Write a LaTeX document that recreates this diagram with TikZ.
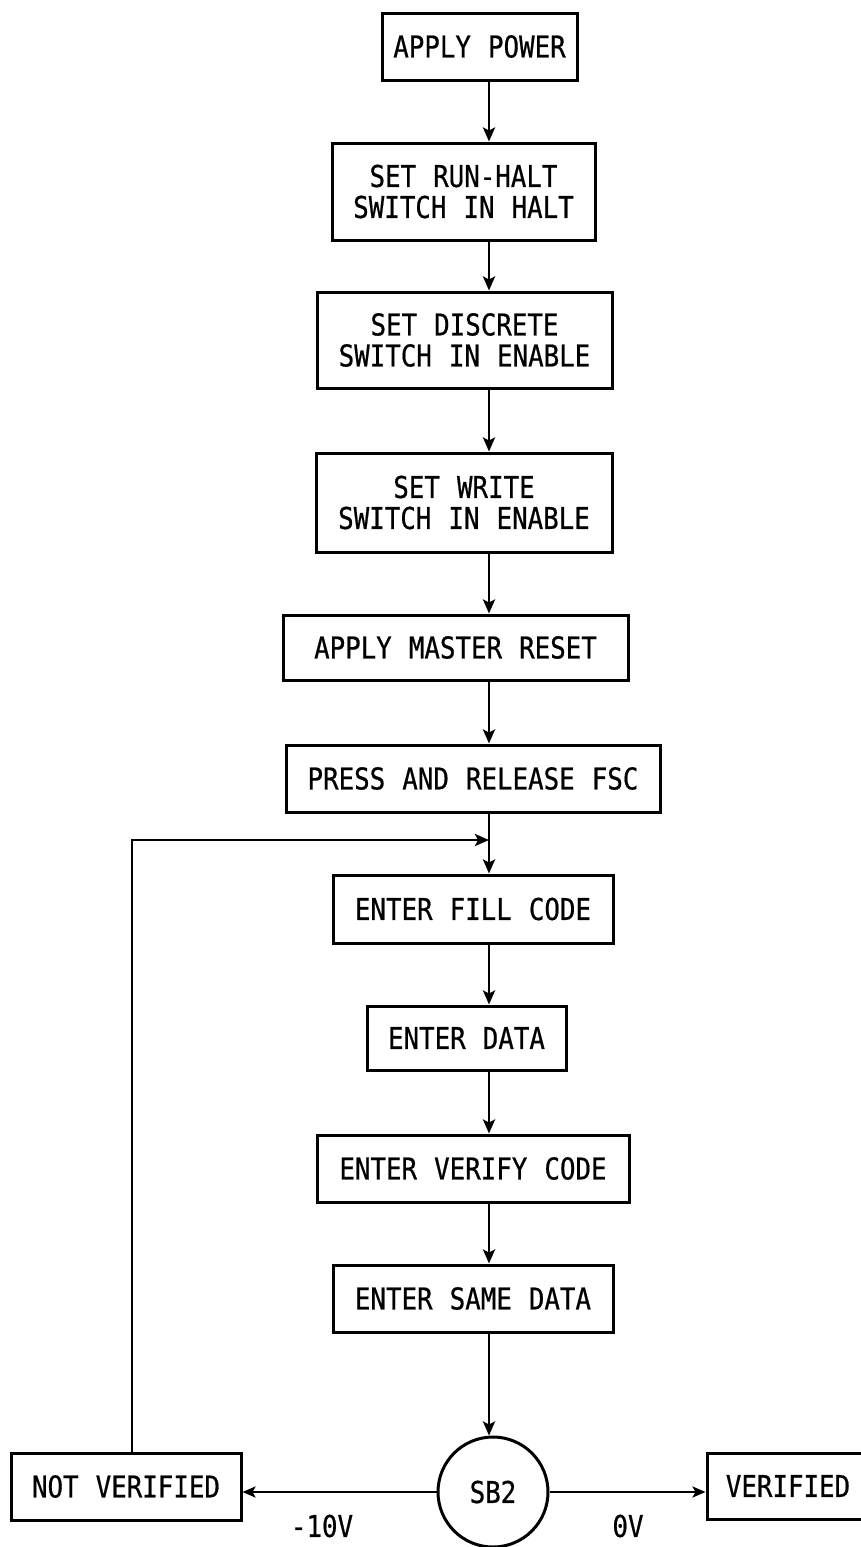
\documentclass[tikz,border=0pt]{standalone}
\usepackage{fontspec}
\usetikzlibrary{arrows.meta}
\newfontfamily\typ[FakeStretch=0.86,FakeBold=0.6,WordSpace=1.1]{DejaVu Sans Mono}
\begin{document}
\begin{tikzpicture}[x=1pt,y=-1pt,
  every node/.style={font=\typ\fontsize{30}{31}\selectfont},
  stepbox/.style={draw,line width=3pt,inner sep=0pt,align=center},
  flow/.style={line width=2.8pt,-{Stealth[length=14pt,width=12pt,inset=3pt]}},
  thin flow/.style={line width=2.4pt,-{Stealth[length=13pt,width=11pt,inset=3pt]}},
  lbl/.style={inner sep=0pt}]
\useasboundingbox (0,0) rectangle (861,1547);
\clip (0,0) rectangle (861,1547);
\coordinate (axis) at (489,0);
\node[stepbox,minimum width=195pt,minimum height=67pt] (power) at (479.5,46.5) {APPLY POWER};
\node[stepbox,minimum width=263pt,minimum height=97pt] (runhalt) at (463.5,191.5) {SET RUN-HALT\\SWITCH IN HALT};
\node[stepbox,minimum width=295pt,minimum height=96pt] (discrete) at (464.5,340) {SET DISCRETE\\SWITCH IN ENABLE};
\node[stepbox,minimum width=296pt,minimum height=99pt] (write) at (464,502.5) {SET WRITE\\SWITCH IN ENABLE};
\node[stepbox,minimum width=345pt,minimum height=65pt] (reset) at (455.5,647.5) {APPLY MASTER RESET};
\node[stepbox,minimum width=374pt,minimum height=67pt] (press) at (473,778.5) {PRESS AND RELEASE FSC};
\node[stepbox,minimum width=280pt,minimum height=68pt] (fill) at (473,909) {ENTER FILL CODE};
\node[stepbox,minimum width=199pt,minimum height=64pt] (data) at (466.5,1038) {ENTER DATA};
\node[stepbox,minimum width=312pt,minimum height=67pt] (verify) at (473,1168.5) {ENTER VERIFY CODE};
\node[stepbox,minimum width=280pt,minimum height=67pt] (same) at (473,1298.5) {ENTER SAME DATA};
\node[stepbox,minimum width=230pt,minimum height=67pt] (notver) at (126,1486.5) {NOT VERIFIED};
\node[stepbox,minimum width=173pt,minimum height=66pt] (verified) at (793.5,1486) {};
\node[lbl] (vertext) at (788,1486) {VERIFIED};
\node[draw,circle,line width=3pt,minimum size=110pt,inner sep=0pt] (sb2) at (493,1492) {SB2};
\node[lbl] (m10) at (322,1526) {-10V};
\node[lbl] (zv) at (628,1526) {0V};
\coordinate (loopcorner) at (132,840);
\coordinate (loopend) at (489,840);
\draw[flow] (power.south -| axis) -- (runhalt.north -| axis);
\draw[flow] (runhalt.south -| axis) -- (discrete.north -| axis);
\draw[flow] (discrete.south -| axis) -- (write.north -| axis);
\draw[flow] (write.south -| axis) -- (reset.north -| axis);
\draw[flow] (reset.south -| axis) -- (press.north -| axis);
\draw[flow] (press.south -| axis) -- (fill.north -| axis);
\draw[flow] (fill.south -| axis) -- (data.north -| axis);
\draw[flow] (data.south -| axis) -- (verify.north -| axis);
\draw[flow] (verify.south -| axis) -- (same.north -| axis);
\draw[flow] (same.south -| axis) -- (sb2.north -| axis);
\draw[thin flow] (sb2.west) -- (notver.east |- sb2.west);
\draw[thin flow] (sb2.east) -- (verified.west |- sb2.east);
\draw[flow] (notver.north -| loopcorner) -- (loopcorner) -- (loopend);
\end{tikzpicture}
\end{document}
